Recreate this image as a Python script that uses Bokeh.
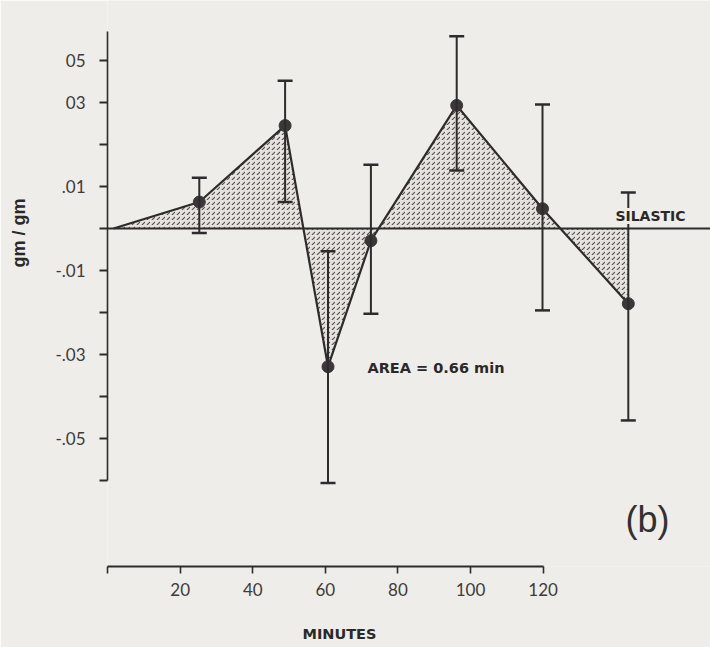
from bokeh.plotting import figure
from bokeh.models import (ColumnDataSource, Whisker, TeeHead, LinearAxis, Range1d,
                          FixedTicker, Span, Label, Title)
from bokeh.embed import file_html
from bokeh.resources import INLINE

# Weight change (gm/gm) relative to the silastic control, sampled over time
start_minute = 0
start_change = 0.0
sample_minutes = [20, 40, 50, 60, 80, 100, 120]
mean_change = [0.0063, 0.0245, -0.0329, -0.0029, 0.0293, 0.0047, -0.0179]
upper_bound = [0.0121, 0.0352, -0.0054, 0.0152, 0.0458, 0.0295, 0.0086]
lower_bound = [-0.0011, 0.0063, -0.0606, -0.0203, 0.0138, -0.0195, -0.0457]

# Axis ticks and their printed labels
y_ticks = [-0.06, -0.05, -0.04, -0.03, -0.02, -0.01, 0.0, 0.01, 0.02, 0.03, 0.04]
y_tick_labels = ["", "-.05", "", "-.03", "", "-.01", "", ".01", "", "03", "05"]
x_ticks = [0, 20, 40, 60, 80, 100, 120]
x_tick_labels = ["", "20", "40", "60", "80", "100", "120"]

BG = "#efede9"
INK = "#2e2b2c"
TICK_FONT = "Lato"

curve = ColumnDataSource(data=dict(
    minute=[start_minute] + sample_minutes,
    change=[start_change] + mean_change,
))
points = ColumnDataSource(data=dict(
    minute=sample_minutes, change=mean_change,
    upper=upper_bound, lower=lower_bound,
))

p = figure(width=710, height=647,
           x_range=Range1d(-1.40, 139.16),
           y_range=Range1d(-0.08048, 0.054286),
           output_backend="svg", toolbar_location=None,
           x_axis_location=None, y_axis_location=None,
           min_border_left=107, min_border_right=0,
           min_border_top=0, min_border_bottom=81)
p.background_fill_color = BG
p.border_fill_color = BG
p.outline_line_color = None
p.xgrid.visible = False
p.ygrid.visible = False


def gap_axis(size, at, **kw):
    """An undrawn axis (one hidden tick) that only reserves space in a side panel."""
    return LinearAxis(ticker=FixedTicker(ticks=[at]),
                      major_label_overrides={at: ""},
                      major_tick_out=size, major_tick_in=0,
                      minor_tick_out=0, minor_tick_in=0,
                      major_label_standoff=0, major_label_text_font_size="1px",
                      axis_line_color=None, major_tick_line_color=None,
                      minor_tick_line_color=None, **kw)


# Vertical scale
yaxis = LinearAxis(
    ticker=FixedTicker(ticks=y_ticks),
    bounds=(-0.06, 0.047),
    major_label_overrides={t: s for t, s in zip(y_ticks, y_tick_labels)},
    major_tick_out=8, major_tick_in=0,
    minor_tick_out=0, minor_tick_in=0,
    axis_line_width=1.6, axis_line_color=INK,
    major_tick_line_width=2, major_tick_line_color=INK,
    major_label_standoff=14,
    major_label_text_font=TICK_FONT,
    major_label_text_font_size="17px",
    major_label_text_color="#3d3b3b",
)
p.add_layout(yaxis, "left")
p.add_layout(gap_axis(21, 0.0), "left")
p.add_layout(Title(text="gm / gm", align="left", offset=299, standoff=2,
                   vertical_align="top",
                   text_font="Liberation Sans", text_font_style="bold",
                   text_font_size="18px", text_color="#2a2828"), "left")

# Time scale drawn underneath the panel
p.extra_x_ranges = {"clock": Range1d(-0.01, 166.1)}
xaxis = LinearAxis(
    x_range_name="clock",
    ticker=FixedTicker(ticks=x_ticks),
    bounds=(0, 120),
    major_label_overrides={t: s for t, s in zip(x_ticks, x_tick_labels)},
    major_tick_out=7, major_tick_in=0,
    minor_tick_out=0, minor_tick_in=0,
    axis_line_width=2, axis_line_color=INK,
    major_tick_line_width=1.6, major_tick_line_color=INK,
    major_label_standoff=9,
    major_label_text_font=TICK_FONT,
    major_label_text_font_size="17px",
    major_label_text_color="#3d3b3b",
)
p.add_layout(xaxis, "below")
p.add_layout(gap_axis(26, 60, x_range_name="clock"), "below")
p.add_layout(Title(text="MINUTES", align="left", offset=195, standoff=2,
                   vertical_align="top",
                   text_font="DejaVu Sans", text_font_style="bold",
                   text_font_size="14.5px", text_color="#2a2828"), "below")

# Stippled area between the curve and the baseline
p.varea(x="minute", y1=0, y2="change", source=curve,
        fill_color="#e6e3de", fill_alpha=1.0,
        hatch_pattern=",", hatch_color="#3a3636",
        hatch_scale=5, hatch_weight=1.1, hatch_alpha=0.85)

# Baseline (silastic control)
p.add_layout(Span(location=0, dimension="width",
                  line_color=INK, line_width=2))

# Connecting curve
p.line(x="minute", y="change", source=curve, line_color=INK, line_width=2.2)

# Mean values
p.scatter(x="minute", y="change", source=points, size=12,
          fill_color="#3b3638", line_color="#3b3638")

# Error bars
p.add_layout(Whisker(source=points, base="minute", upper="upper", lower="lower",
                     level="annotation",
                     line_color=INK, line_width=2,
                     upper_head=TeeHead(size=15, line_width=2.5, line_color=INK),
                     lower_head=TeeHead(size=15, line_width=2.5, line_color=INK)))

# Annotations
p.add_layout(Label(x=125.17, y=0.003, text="SILASTIC",
                   text_font="DejaVu Sans", text_font_style="bold",
                   text_font_size="14px", text_color="#2a2828",
                   background_fill_color=BG, background_fill_alpha=1.0,
                   text_align="center", text_baseline="middle"))
p.add_layout(Label(x=59.2, y=-0.0333, text="AREA = 0.66  min",
                   text_font="DejaVu Sans", text_font_style="bold",
                   text_font_size="14.5px", text_color="#2a2828",
                   text_align="left", text_baseline="middle"))
p.add_layout(Label(x=124.5, y=-0.0693, text="(b)",
                   text_font="Liberation Sans", text_font_size="36px",
                   text_color="#333030",
                   text_align="center", text_baseline="middle"))

open("out.html", "w").write(file_html(p, INLINE))
